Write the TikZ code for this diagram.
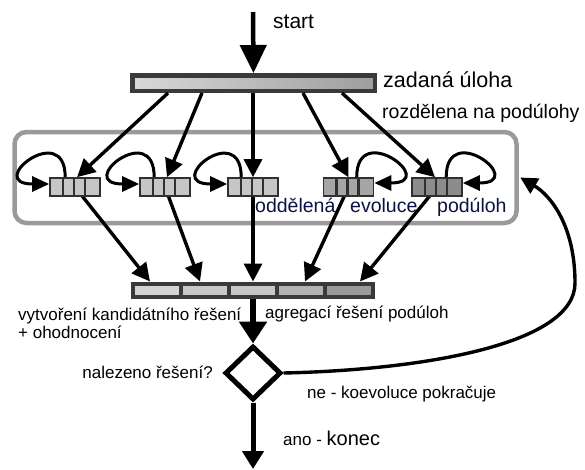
\documentclass[tikz,border=0pt]{standalone}
\usepackage{fontspec}
\setmainfont{Liberation Sans}
\usetikzlibrary{arrows.meta,shapes.geometric,calc}

\definecolor{barframe}{HTML}{3A3A3A}
\definecolor{blkframe}{HTML}{303030}
\definecolor{taskL}{HTML}{D8D8D8}
\definecolor{taskR}{HTML}{9E9E9E}
\definecolor{blkA}{HTML}{C6C6C6}
\definecolor{blkB}{HTML}{A6A6A6}
\definecolor{blkC}{HTML}{8C8C8C}
\definecolor{cellA}{HTML}{D4D4D4}
\definecolor{cellB}{HTML}{C8C8C8}
\definecolor{cellC}{HTML}{C8C8C8}
\definecolor{cellD}{HTML}{B2B2B2}
\definecolor{cellE}{HTML}{9A9A9A}
\definecolor{boxgray}{HTML}{9A9A9A}
\definecolor{navytext}{HTML}{0C1240}

\tikzset{
  taskbar/.style={rectangle, draw=barframe, line width=4.5pt, left color=taskL, right color=taskR,
    minimum width=242.5pt, minimum height=15.5pt, inner sep=0pt},
  evobox/.style={rectangle, draw=boxgray, line width=4.5pt, rounded corners=12pt,
    minimum width=502pt, minimum height=91pt, inner sep=0pt},
  blk/.style={rectangle, draw=blkframe, line width=1.6pt, minimum width=50pt, minimum height=18pt, inner sep=0pt,
    path picture={\foreach \f in {0.26,0.48,0.70}{
      \draw[blkframe, line width=2.6pt]
        ($(path picture bounding box.south west)!\f!(path picture bounding box.south east)$) --
        ($(path picture bounding box.north west)!\f!(path picture bounding box.north east)$);}}},
  cell/.style={rectangle, draw=barframe, line width=4pt, minimum width=48pt, minimum height=13pt, inner sep=0pt},
  decide/.style={diamond, draw=black, line width=5pt, minimum width=56pt, minimum height=54pt, inner sep=0pt},
  arr/.style={line width=3.4pt, -{Triangle[length=18pt,width=18pt]}},
  startarr/.style={line width=4.5pt, -{Triangle[length=28pt,width=26pt]}},
  downarr/.style={line width=5.5pt, -{Triangle[length=22pt,width=27pt]}},
  endarr/.style={line width=5pt, -{Triangle[length=18pt,width=21pt]}},
  looparr/.style={line width=3pt, -{Triangle[length=17pt,width=15pt]}},
  fbarr/.style={line width=3.4pt, -{Triangle[length=17pt,width=17pt]}},
  lbl/.style={inner sep=0pt, anchor=base west, font=\fontsize{17}{20}\selectfont},
  biglbl/.style={inner sep=0pt, anchor=base west, font=\fontsize{19.5}{23}\selectfont},
}

\begin{document}
\begin{tikzpicture}[x=1pt,y=-1pt]
\useasboundingbox (0,0) rectangle (585,469);

% frame around the separately evolving subproblems
\node[evobox] (evo) at (265.5,177.5) {};

% task bar and the five subproblem blocks
\node[taskbar] (task) at (253.5,83) {};

\coordinate (b1c) at (75,187);
\coordinate (b2c) at (165,187);
\coordinate (b3c) at (253,187);
\coordinate (b4c) at (348.5,187);
\coordinate (b5c) at (437,187);

% aggregation bar cells
\node[cell, fill=cellA] (c1) at (157,290) {};
\node[cell, fill=cellB] (c2) at (205,290) {};
\node[cell, fill=cellC] (c3) at (253,290) {};
\node[cell, fill=cellD] (c4) at (301,290) {};
\node[cell, fill=cellE] (c5) at (349,290) {};

% subproblem results flow into the aggregation bar
\draw[arr] (b1c) -- ($(c1.north)+(-7,0)$);
\draw[arr] (b2c) -- ($(c2.north)+(-5,0)$);
\draw[arr] (b3c) -- (c3.north);
\draw[arr] (b4c) -- ($(c4.north)+(4,0)$);
\draw[arr] (b5c) -- ($(c5.north)+(11,0)$);

\node[blk, fill=blkA] (b1) at (b1c) {};
\node[blk, fill=blkA] (b2) at (b2c) {};
\node[blk, fill=blkA] (b3) at (b3c) {};
\node[blk, fill=blkB] (b4) at (b4c) {};
\node[blk, fill=blkC] (b5) at (b5c) {};

% start
\coordinate (s0) at (253,12);
\draw[startarr] (s0) -- (task.north);

% split of the task into subproblems
\draw[arr] ($(task.south west)+(38,0)$) -- ($(b1.north)+(2,0)$);
\draw[arr] ($(task.south west)+(72,0)$) -- ($(b2.north)+(2,0)$);
\draw[arr] ($(task.south west)+(123,0)$) -- (b3.north);
\draw[arr] ($(task.south west)+(173,0)$) -- (b4.north);
\draw[arr] ($(task.south west)+(212,0)$) -- ($(b5.north)+(-2,0)$);

% self loops: each subproblem evolves on its own
\draw[looparr] ($(b1.north west)+(16,0)$) .. controls +(0,-58) and +(-66,0) .. ($(b1.west)+(0,-3)$);
\draw[looparr] ($(b2.north west)+(15,0)$) .. controls +(0,-58) and +(-66,0) .. ($(b2.west)+(0,-3)$);
\draw[looparr] ($(b3.north west)+(14,0)$) .. controls +(0,-58) and +(-66,0) .. ($(b3.west)+(0,-3)$);
\draw[looparr] ($(b4.north west)+(34,0)$) .. controls +(0,-58) and +(66,0) .. ($(b4.east)+(0,-4)$);
\draw[looparr] ($(b5.north west)+(35,0)$) .. controls +(0,-58) and +(66,0) .. ($(b5.east)+(0,-4)$);

% decision
\node[decide] (dec) at (253,373) {};
\draw[downarr] (c3.south) -- (dec.north);

\coordinate (endpt) at (253,469);
\draw[endarr] (dec.south) -- (endpt);

% continue the coevolution
\draw[fbarr] (dec.east) .. controls (420,370) and (575,345) .. (575,283)
  .. controls (575,225) and (550,195) .. ($(evo.east)+(1.5,0)$);

% labels
\node[inner sep=0pt, anchor=base west, font=\fontsize{21}{25}\selectfont] (tstart) at (273,28) {start};
\node[inner sep=0pt, anchor=base west, font=\fontsize{21.5}{25}\selectfont] (tzad) at (383,87) {zadaná úloha};
\node[biglbl] (troz) at (382,118) {rozdělena na podúlohy};
\node[biglbl, text=navytext] (todd) at (255,212) {oddělená};
\node[biglbl, text=navytext] (tevo) at (350,212) {evoluce};
\node[biglbl, text=navytext] (tpod) at (437,212) {podúloh};
\node[lbl] (tvyt) at (18,320) {vytvoření kandidátního řešení};
\node[lbl] (toh) at (18,338) {+ ohodnocení};
\node[lbl] (tagr) at (265,318) {agregací řešení podúloh};
\node[lbl, anchor=base east] (tnal) at (213,378) {nalezeno řešení?};
\node[lbl] (tne) at (307,398) {ne - koevoluce pokračuje};
\node[lbl] (tano) at (283,445) {ano - {\fontsize{20}{24}\selectfont konec}};
\end{tikzpicture}
\end{document}
